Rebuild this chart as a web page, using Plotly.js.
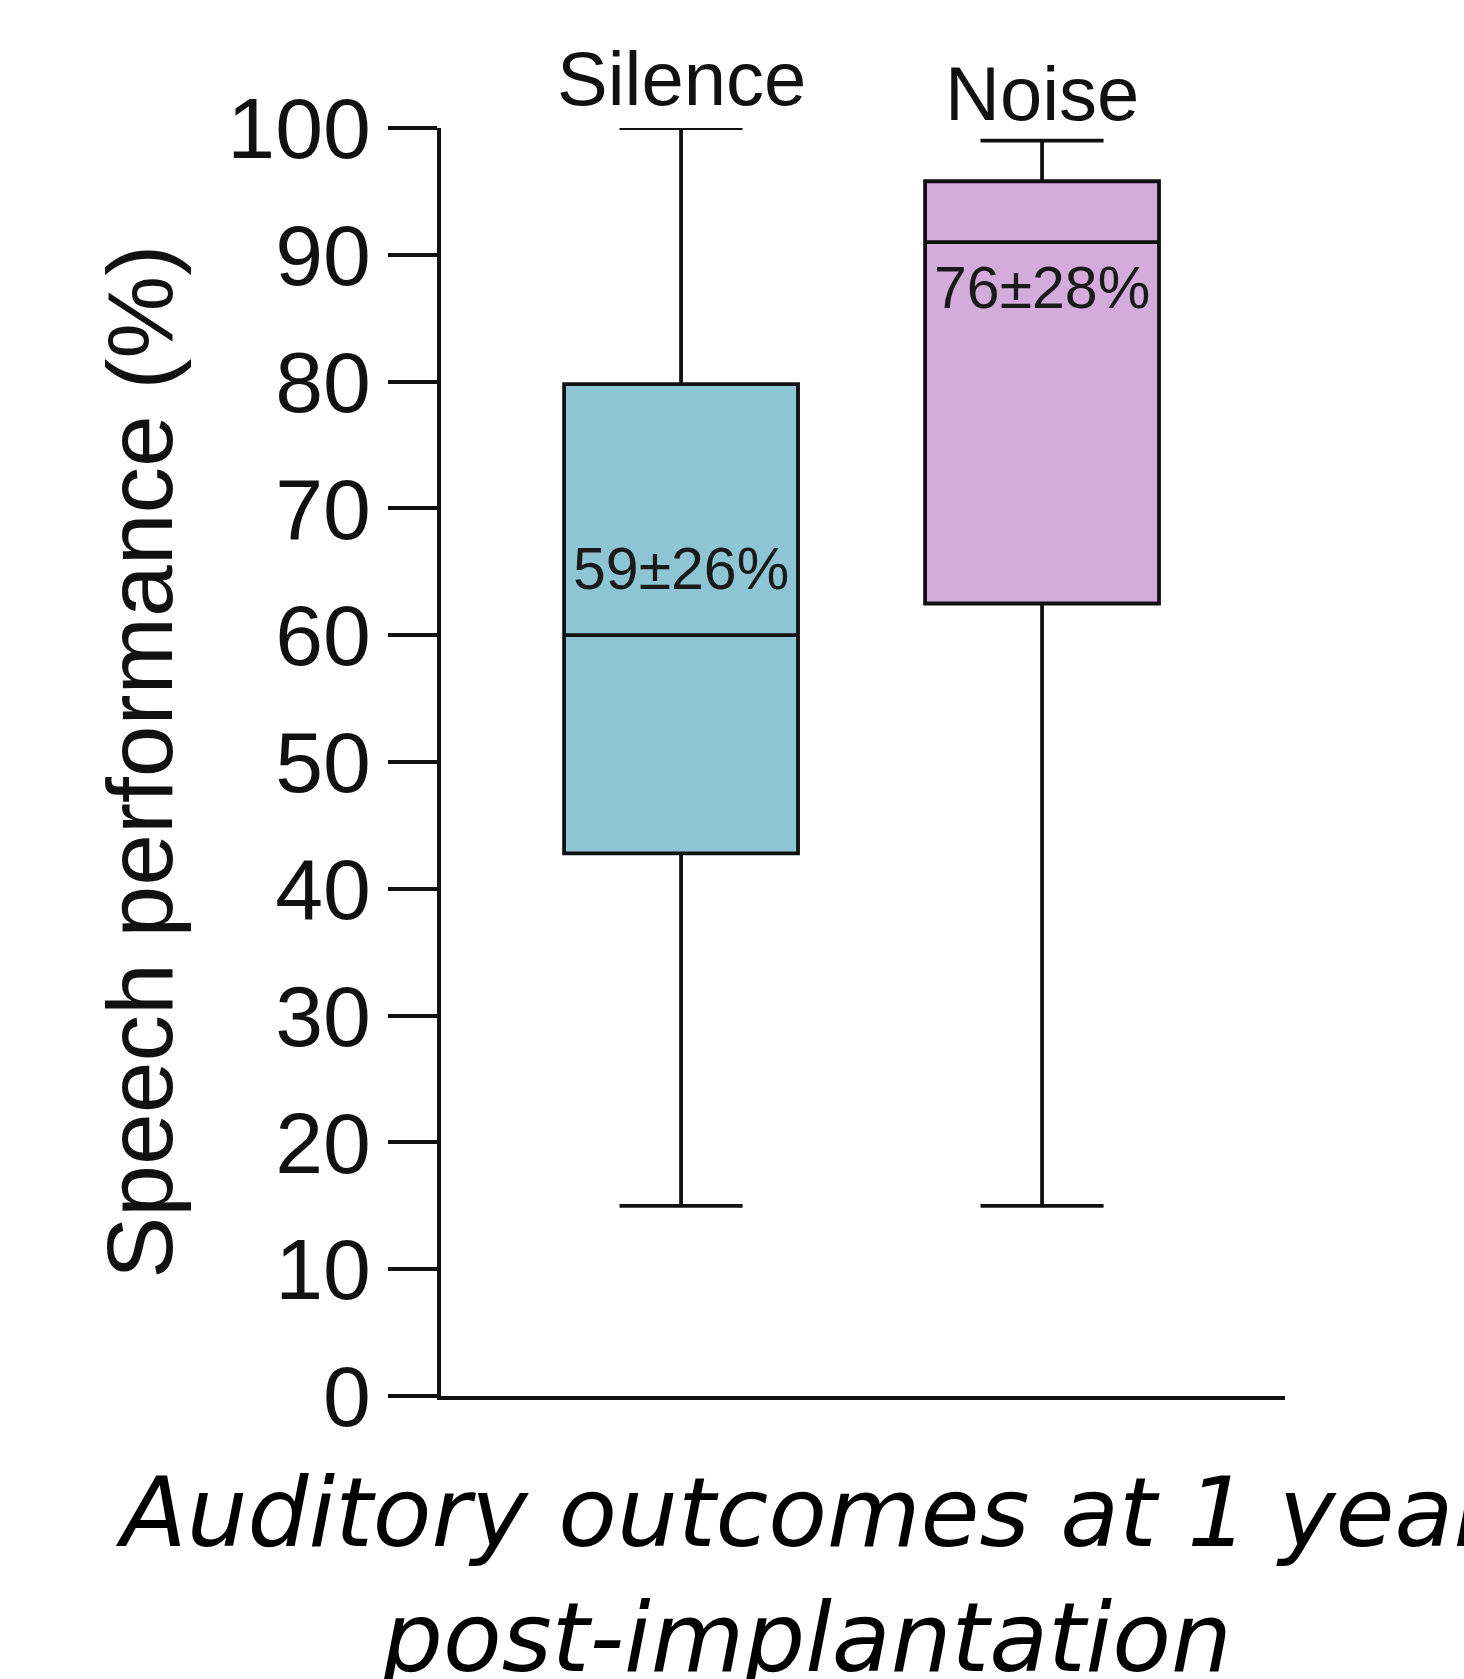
<!DOCTYPE html>
<html>
<head>
<meta charset="utf-8">
<script src="https://cdn.plot.ly/plotly-3.0.1.min.js"></script>
<style>html,body{margin:0;padding:0;background:#fff;}#chart{width:1464px;height:1679px;}</style>
</head>
<body>
<div id="chart"></div>
<script>
// Data
const categories = ["Silence", "Noise"];
const lowerFence = [15, 15];
const q1 = [42.8, 62.5];
const median = [60, 91];
const q3 = [79.8, 95.8];
const upperFence = [100, 99];
const meanSdLabels = ["59±26%", "76±28%"];
const yTickVals = [0, 10, 20, 30, 40, 50, 60, 70, 80, 90, 100];

const fills = ["#8EC5D4", "#D4ACDB"];

const traces = categories.map((c, i) => ({
  type: "box",
  x: [i],
  q1: [q1[i]],
  median: [median[i]],
  q3: [q3[i]],
  lowerfence: [lowerFence[i]],
  upperfence: [upperFence[i]],
  width: 0.648,
  whiskerwidth: 0.526,
  fillcolor: fills[i],
  line: {color: "#111", width: 3.8},
  boxpoints: false,
  hoverinfo: "skip",
  showlegend: false
}));

const annotations = [];
// category names above the whiskers
categories.forEach((c, i) => {
  annotations.push({
    x: i, y: upperFence[i], xref: "x", yref: "y",
    text: c, showarrow: false, xanchor: "center", yanchor: "middle",
    yshift: [50, 47][i],
    font: {family: "Liberation Sans, Arial, sans-serif", size: 76, color: "#111"}
  });
});
// mean ± sd labels inside boxes
const labelY = [65.2, 87.4];
meanSdLabels.forEach((t, i) => {
  annotations.push({
    x: i, y: labelY[i], xref: "x", yref: "y",
    text: t, showarrow: false, xanchor: "center", yanchor: "middle",
    font: {family: "Liberation Sans, Arial, sans-serif", size: 59, color: "#1a1a1a"}
  });
});
// y axis title
annotations.push({
  x: -0.357, y: 0.5, xref: "paper", yref: "paper",
  text: "Speech performance (%)", textangle: -90, showarrow: false,
  xanchor: "center", yanchor: "middle",
  font: {family: "Liberation Sans, Arial, sans-serif", size: 93, color: "#111"}
});
// caption
annotations.push({
  x: 0.4325, y: -0.0465, xref: "paper", yref: "paper",
  text: "Auditory outcomes at 1 year<br>post-implantation", showarrow: false,
  xanchor: "center", yanchor: "top", align: "center",
  font: {family: "DejaVu Sans, Verdana, sans-serif", size: 96, color: "#000", style: "italic"}
});

const layout = {
  width: 1464, height: 1679,
  margin: {l: 441, r: 179, t: 128, b: 283, pad: 0},
  paper_bgcolor: "#fff", plot_bgcolor: "#fff",
  showlegend: false,
  xaxis: {
    range: [-0.665, 1.673],
    showgrid: false, zeroline: false, showticklabels: false, ticks: "",
    showline: true, linecolor: "#111", linewidth: 4
  },
  yaxis: {
    range: [0, 100], tickvals: yTickVals,
    showgrid: false, zeroline: false,
    showline: true, linecolor: "#111", linewidth: 4,
    ticks: "outside", ticklen: 49, tickwidth: 4, tickcolor: "#111",
    tickfont: {family: "Liberation Sans, Arial, sans-serif", size: 86, color: "#111"}
  },
  annotations: annotations
};

Plotly.newPlot("chart", traces, layout, {displayModeBar: false, staticPlot: true});
</script>
</body>
</html>
